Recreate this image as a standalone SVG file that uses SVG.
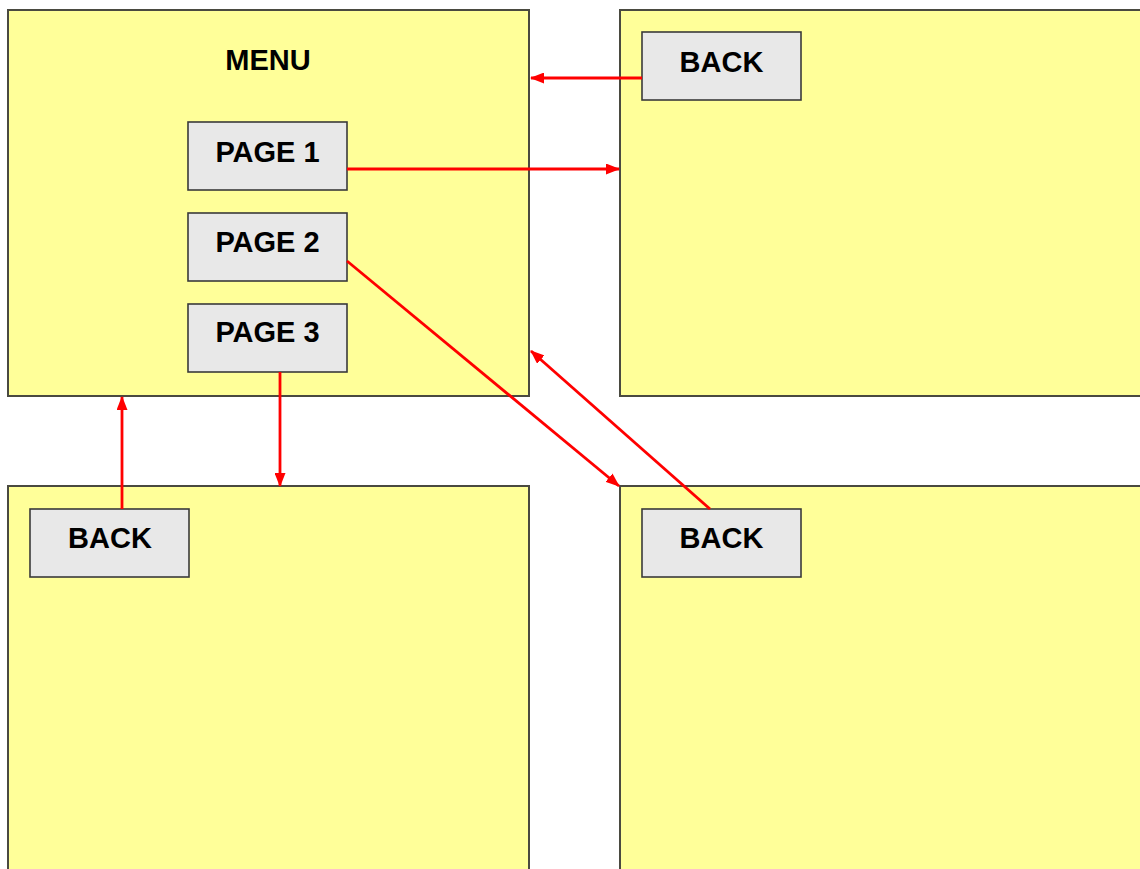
<svg xmlns="http://www.w3.org/2000/svg" width="1140" height="869" viewBox="0 0 1140 869">
<style>
.panel{fill:#FFFF99;stroke:#4a4a40;stroke-width:2}
.btn{fill:#E8E8E8;stroke:#3a3a3a;stroke-width:1.6}
.lbl{font-family:"Liberation Sans",Arial,sans-serif;font-weight:bold;font-size:29px;fill:#000;text-anchor:middle}
.conn{stroke:#FF0000;stroke-width:2.8;fill:none}
</style>
<defs>
<marker id="ah" viewBox="0 0 14 11" refX="13" refY="5.5" markerWidth="14" markerHeight="11" markerUnits="userSpaceOnUse" orient="auto">
<path d="M0,0 L14,5.5 L0,11 Z" fill="#FF0000"/>
</marker>
</defs>
<rect width="1140" height="869" fill="#FFFFFF"/>
<g id="menu">
<rect class="panel" x="8" y="10" width="521" height="386"/>
<text class="lbl" x="268" y="70">MENU</text>
</g>
<g id="page1-btn"><rect class="btn" x="188" y="122" width="159" height="68"/><text class="lbl" x="267.5" y="162">PAGE 1</text></g>
<g id="page2-btn"><rect class="btn" x="188" y="213" width="159" height="68"/><text class="lbl" x="267.5" y="252">PAGE 2</text></g>
<g id="page3-btn"><rect class="btn" x="188" y="304" width="159" height="68"/><text class="lbl" x="267.5" y="342">PAGE 3</text></g>
<g id="page1">
<rect class="panel" x="620" y="10" width="530" height="386"/>
</g>
<g id="page1-back"><rect class="btn" x="642" y="32" width="159" height="68"/><text class="lbl" x="721.5" y="72">BACK</text></g>
<g id="page3">
<rect class="panel" x="8" y="486" width="521" height="400"/>
</g>
<g id="page3-back"><rect class="btn" x="30" y="509" width="159" height="68"/><text class="lbl" x="110" y="548">BACK</text></g>
<g id="page2">
<rect class="panel" x="620" y="486" width="530" height="400"/>
</g>
<g id="page2-back"><rect class="btn" x="642" y="509" width="159" height="68"/><text class="lbl" x="721.5" y="548">BACK</text></g>
<g id="connectors">
<line class="conn" x1="642" y1="78" x2="531" y2="78" marker-end="url(#ah)"/>
<line class="conn" x1="347" y1="169" x2="619" y2="169" marker-end="url(#ah)"/>
<line class="conn" x1="347" y1="261" x2="619" y2="486" marker-end="url(#ah)"/>
<line class="conn" x1="710" y1="509" x2="531" y2="351" marker-end="url(#ah)"/>
<line class="conn" x1="280" y1="372" x2="280" y2="486" marker-end="url(#ah)"/>
<line class="conn" x1="122" y1="509" x2="122" y2="397" marker-end="url(#ah)"/>
</g>
</svg>
